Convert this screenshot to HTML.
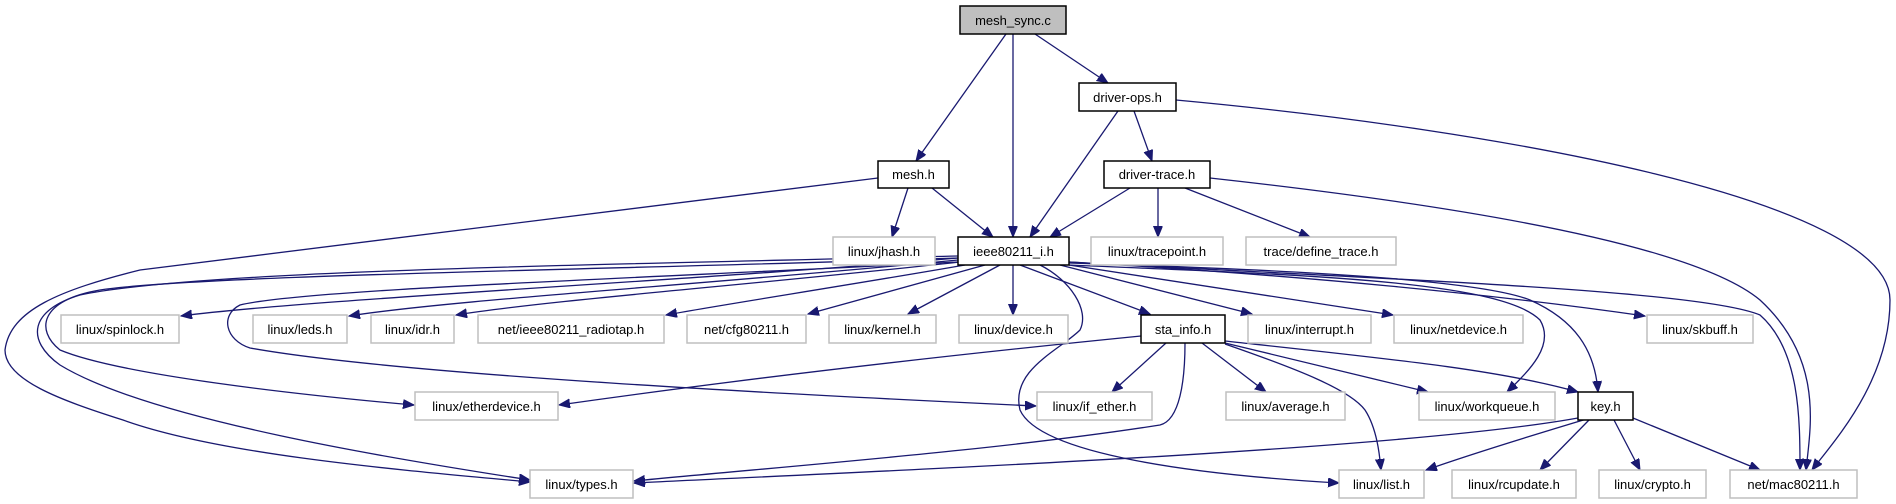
<!DOCTYPE html>
<html><head><meta charset="utf-8"><style>
html,body{margin:0;padding:0;background:#fff;}
svg{display:block;}
text{font-family:"Liberation Sans",sans-serif;font-size:13px;fill:#000;text-anchor:middle;}
.g rect{fill:#fff;stroke:#bfbfbf;stroke-width:1.5;}
.b rect{fill:#fff;stroke:#000;stroke-width:1.5;}
path{fill:none;stroke:#191970;stroke-width:1.3;}
</style></head><body>
<svg width="1896" height="504" viewBox="0 0 1896 504" xmlns="http://www.w3.org/2000/svg">
<defs><marker id="a" markerWidth="12" markerHeight="10" refX="11" refY="4.5" orient="auto" markerUnits="userSpaceOnUse"><path d="M0,0 L11,4.5 L0,9 Z" style="fill:#191970;stroke:#191970;stroke-width:1"/></marker></defs>
<g marker-end="url(#a)">
<path d="M1006,34 L916,161"/>
<path d="M1013,34 L1013,237"/>
<path d="M1035,34 L1108,83"/>
<path d="M1118,111 L1030,237"/>
<path d="M1134,111 L1152,161"/>
<path d="M1176,100 C1500,130 1890,200 1890,300 C1890,380 1835,440 1812,470"/>
<path d="M908,188 L892,237"/>
<path d="M932,188 L993,237"/>
<path d="M878,178 L140,270 C60,290 10,310 5,350 C5,380 60,400 123,420 C220,455 400,470 530,482"/>
<path d="M1130,188 L1050,237"/>
<path d="M1158,188 L1158,237"/>
<path d="M1185,188 L1310,237"/>
<path d="M1210,178 C1500,210 1700,250 1760,300 C1825,360 1810,430 1806,470"/>
<path d="M1069,262 C1400,280 1700,290 1760,315 C1800,350 1800,420 1800,470"/>
<path d="M958,258 C700,280 300,300 181,316"/>
<path d="M958,260 C700,285 450,300 349,316"/>
<path d="M960,262 C750,285 550,300 456,315"/>
<path d="M965,265 C850,285 720,305 666,315"/>
<path d="M985,265 L808,314"/>
<path d="M1000,265 L908,314"/>
<path d="M1013,265 L1013,315"/>
<path d="M1020,265 L1150,314"/>
<path d="M1060,265 L1252,314"/>
<path d="M1069,265 C1200,285 1300,300 1393,315"/>
<path d="M1069,262 C1300,275 1500,295 1645,316"/>
<path d="M1069,263 C1300,270 1480,280 1530,300 C1575,320 1595,350 1598,392"/>
<path d="M1069,265 C1300,275 1500,280 1540,320 C1555,345 1530,370 1507,392"/>
<path d="M1040,265 C1070,280 1090,310 1080,330 C1060,350 1010,370 1020,410 C1040,455 1200,475 1339,483"/>
<path d="M958,262 C600,280 300,290 240,305 C220,315 225,340 250,348 C400,375 800,395 1036,406"/>
<path d="M958,258 C600,270 200,275 100,290 C40,300 35,330 60,350 C120,375 300,395 414,405"/>
<path d="M958,256 C600,265 200,270 80,295 C30,310 25,340 60,365 C150,420 400,460 530,480"/>
<path d="M1185,343 C1185,380 1180,420 1160,425 C1000,450 800,465 634,481"/>
<path d="M1578,418 C1400,450 900,470 634,483"/>
<path d="M1141,336 C900,360 700,385 559,405"/>
<path d="M1166,343 L1112,392"/>
<path d="M1202,343 L1266,392"/>
<path d="M1225,344 C1300,370 1350,390 1365,410 C1378,430 1380,460 1381,470"/>
<path d="M1225,343 L1428,392"/>
<path d="M1225,341 C1400,360 1500,370 1578,392"/>
<path d="M1590,418 C1500,445 1460,458 1426,470"/>
<path d="M1589,420 L1540,470"/>
<path d="M1614,420 L1640,470"/>
<path d="M1633,418 L1760,470"/>
</g>
<g class="b"><rect x="960" y="6" width="106" height="28" style="fill:#bfbfbf"/><text x="1013" y="25">mesh_sync.c</text></g>
<g class="b"><rect x="1079" y="83" width="97" height="28"/><text x="1127.5" y="102">driver-ops.h</text></g>
<g class="b"><rect x="878" y="161" width="71" height="27"/><text x="913.5" y="179">mesh.h</text></g>
<g class="b"><rect x="1104" y="161" width="106" height="27"/><text x="1157" y="179">driver-trace.h</text></g>
<g class="b"><rect x="958" y="237" width="111" height="28"/><text x="1013.5" y="256">ieee80211_i.h</text></g>
<g class="g"><rect x="833" y="237" width="102" height="28"/><text x="884" y="256">linux/jhash.h</text></g>
<g class="g"><rect x="1091" y="237" width="132" height="28"/><text x="1157" y="256">linux/tracepoint.h</text></g>
<g class="g"><rect x="1246" y="237" width="150" height="28"/><text x="1321" y="256">trace/define_trace.h</text></g>
<g class="g"><rect x="61" y="315" width="118" height="28"/><text x="120" y="334">linux/spinlock.h</text></g>
<g class="g"><rect x="253" y="315" width="94" height="28"/><text x="300" y="334">linux/leds.h</text></g>
<g class="g"><rect x="371" y="315" width="83" height="28"/><text x="412.5" y="334">linux/idr.h</text></g>
<g class="g"><rect x="478" y="315" width="186" height="28"/><text x="571" y="334">net/ieee80211_radiotap.h</text></g>
<g class="g"><rect x="687" y="315" width="119" height="28"/><text x="746.5" y="334">net/cfg80211.h</text></g>
<g class="g"><rect x="829" y="315" width="107" height="28"/><text x="882.5" y="334">linux/kernel.h</text></g>
<g class="g"><rect x="959" y="315" width="109" height="28"/><text x="1013.5" y="334">linux/device.h</text></g>
<g class="b"><rect x="1141" y="315" width="84" height="28"/><text x="1183" y="334">sta_info.h</text></g>
<g class="g"><rect x="1248" y="315" width="123" height="28"/><text x="1309.5" y="334">linux/interrupt.h</text></g>
<g class="g"><rect x="1394" y="315" width="129" height="28"/><text x="1458.5" y="334">linux/netdevice.h</text></g>
<g class="g"><rect x="1647" y="315" width="106" height="28"/><text x="1700" y="334">linux/skbuff.h</text></g>
<g class="g"><rect x="415" y="392" width="143" height="28"/><text x="486.5" y="411">linux/etherdevice.h</text></g>
<g class="g"><rect x="1037" y="392" width="115" height="28"/><text x="1094.5" y="411">linux/if_ether.h</text></g>
<g class="g"><rect x="1226" y="392" width="119" height="28"/><text x="1285.5" y="411">linux/average.h</text></g>
<g class="g"><rect x="1419" y="392" width="136" height="28"/><text x="1487" y="411">linux/workqueue.h</text></g>
<g class="b"><rect x="1578" y="392" width="55" height="28"/><text x="1605.5" y="411">key.h</text></g>
<g class="g"><rect x="530" y="470" width="103" height="28"/><text x="581.5" y="489">linux/types.h</text></g>
<g class="g"><rect x="1339" y="470" width="85" height="28"/><text x="1381.5" y="489">linux/list.h</text></g>
<g class="g"><rect x="1452" y="470" width="124" height="28"/><text x="1514" y="489">linux/rcupdate.h</text></g>
<g class="g"><rect x="1599" y="470" width="107" height="28"/><text x="1652.5" y="489">linux/crypto.h</text></g>
<g class="g"><rect x="1730" y="470" width="127" height="28"/><text x="1793.5" y="489">net/mac80211.h</text></g>
</svg>
</body></html>
